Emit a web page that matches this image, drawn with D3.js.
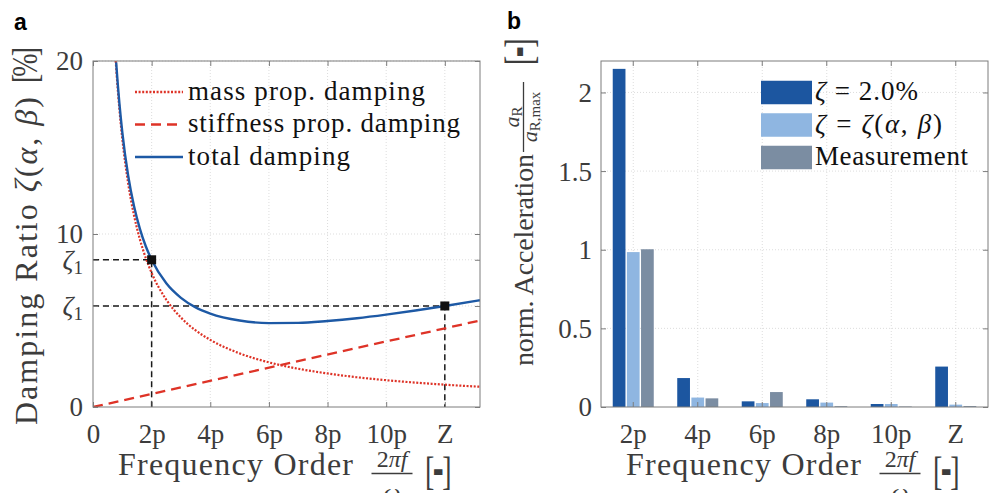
<!DOCTYPE html>
<html>
<head>
<meta charset="utf-8">
<script src="https://cdn.jsdelivr.net/npm/d3@7"></script>
<style>
  body { margin: 0; background: #fff; }
  svg { display: block; }
</style>
</head>
<body>
<svg id="fig" width="991" height="493"></svg>
<script>
// ---------- panel a: Rayleigh damping over frequency order ----------
const freqTicks = [0, 2, 4, 6, 8, 10, 12];
const freqTickLabels = ["0", "2p", "4p", "6p", "8p", "10p", "Z"];

const massX       = [0.775, 0.8, 0.9, 1.0, 1.2, 1.4, 1.6, 1.8, 2.0, 2.5, 3.0, 3.5, 4.0, 5.0, 6.0, 7.0, 8.0, 9.0, 10.0, 11.0, 12.0, 13.2];
const massDamping = [20.0, 19.38, 17.22, 15.5, 12.92, 11.07, 9.69, 8.61, 7.75, 6.2, 5.17, 4.43, 3.88, 3.1, 2.58, 2.21, 1.94, 1.72, 1.55, 1.41, 1.29, 1.17];

const stiffX       = [0, 13.2];
const stiffDamping = [0, 5.0];

const totalX       = [0.79, 0.8, 0.9, 1.0, 1.2, 1.4, 1.6, 1.8, 2.0, 2.5, 3.0, 3.5, 4.0, 5.0, 6.0, 7.0, 8.0, 9.0, 10.0, 11.0, 12.0, 13.2];
const totalDamping = [19.92, 19.68, 17.56, 15.88, 13.37, 11.6, 10.3, 9.29, 8.51, 7.15, 6.31, 5.76, 5.4, 5.0, 4.85, 4.86, 4.97, 5.13, 5.34, 5.58, 5.84, 6.17];

const refX    = [2, 12];
const refZeta = [8.51, 5.84];

const dampTicks      = [0, 5.84, 8.51, 10, 20];
const dampTickLabels = ["0", "ζ1", "ζ1", "10", "20"];

// ---------- panel b: normalised acceleration per order ----------
const orders      = ["2p", "4p", "6p", "8p", "10p", "Z"];
const seriesNames = ["ζ = 2.0%", "ζ = ζ(α, β)", "Measurement"];
const accConst    = [2.15, 0.184, 0.036, 0.049, 0.019, 0.257];
const accRayleigh = [0.985, 0.06, 0.025, 0.028, 0.019, 0.015];
const accMeasured = [1.003, 0.055, 0.095, 0.005, 0.003, 0.006];
const accTicks      = [0, 0.5, 1, 1.5, 2];
const accTickLabels = ["0", "0.5", "1", "1.5", "2"];

// ---------- styling ----------
const serif = "'Liberation Serif', 'DejaVu Serif', serif";
const sans = "'Liberation Sans', Arial, sans-serif";
const axisGray = "#7c7c7c";
const textGray = "#3c3c3c";
const gridGray = "#d4d4d4";
const red = "#de3327";
const blue = "#1d59a5";
const barColors = ["#1c56a0", "#8fb6e1", "#7b8da2"];

const svg = d3.select("#fig");

// writes text containing ζ, α, β, π, f, ω as italic math symbols
function mathText(sel, str) {
  const italics = new Set(["ζ", "α", "β", "π", "f", "ω"]);
  let buf = "";
  const flush = () => { if (buf) { sel.append("tspan").text(buf); buf = ""; } };
  for (const ch of str) {
    if (italics.has(ch)) { flush(); sel.append("tspan").attr("font-style", "italic").text(ch); }
    else buf += ch;
  }
  flush();
}

// "[-]" unit tag with tall, thin brackets
function unitTag(parent, x, y) {
  const t = parent.append("text")
    .attr("transform", `translate(${x},${y}) scale(1,1.45)`)
    .attr("font-family", serif).attr("font-size", 28).attr("fill", textGray);
  t.append("tspan").text("[");
  t.append("tspan").attr("font-family", sans).attr("font-weight", "bold").attr("font-size", 33)
    .attr("dx", -1.5).text("-");
  t.append("tspan").attr("dx", -1.5).text("]");
  return t;
}

function drawGrid(g, xs, ys, box) {
  g.selectAll(null).data(xs).join("line")
    .attr("x1", d => d).attr("x2", d => d)
    .attr("y1", box.top).attr("y2", box.bottom)
    .attr("stroke", gridGray).attr("stroke-width", 0.8).attr("stroke-dasharray", "1,2");
  g.selectAll(null).data(ys).join("line")
    .attr("y1", d => d).attr("y2", d => d)
    .attr("x1", box.left).attr("x2", box.right)
    .attr("stroke", gridGray).attr("stroke-width", 0.8).attr("stroke-dasharray", "1,2");
}

function styleAxis(g) {
  g.attr("font-family", serif).attr("font-size", 27);
  g.select(".domain").remove();
  g.selectAll(".tick line").attr("stroke", axisGray).attr("stroke-width", 1);
  g.selectAll(".tick text").attr("fill", textGray)
    .attr("font-family", serif)
    .style("font-family", serif).style("font-size", "27px");
}

function frame(box) {
  svg.append("rect")
    .attr("x", box.left).attr("y", box.top)
    .attr("width", box.right - box.left).attr("height", box.bottom - box.top)
    .attr("fill", "none").attr("stroke", axisGray).attr("stroke-width", 1);
}

// x-axis title: "Frequency Order 2πf/ω [-]" centred on cx
function freqTitle(cx) {
  const s = cx - 168.5;
  const g = svg.append("g").attr("fill", textGray).attr("font-family", serif);
  g.append("text").attr("x", s).attr("y", 474.5).attr("font-size", 32)
    .attr("textLength", 235).attr("lengthAdjust", "spacing").text("Frequency Order");
  const num = g.append("text").attr("x", s + 274).attr("y", 466.5).attr("font-size", 24)
    .attr("text-anchor", "middle");
  mathText(num, "2πf");
  g.append("line").attr("x1", s + 253.5).attr("x2", s + 294.5).attr("y1", 473.5).attr("y2", 473.5)
    .attr("stroke", textGray).attr("stroke-width", 1.3);
  const den = g.append("text").attr("x", s + 274).attr("y", 500).attr("font-size", 24)
    .attr("text-anchor", "middle");
  mathText(den, "ω");
  unitTag(g, s + 307, 484.5);
}

// ================= panel a =================
const boxA = { left: 93, right: 480, top: 61, bottom: 407 };
const xA = d3.scaleLinear().domain([0, 13.2]).range([boxA.left, boxA.right]);
const yA = d3.scaleLinear().domain([0, 20]).range([boxA.bottom, boxA.top]);

drawGrid(svg.append("g"), freqTicks.slice(1).map(xA), dampTicks.slice(1).map(yA), boxA);

svg.append("clipPath").attr("id", "clipA").append("rect")
  .attr("x", boxA.left).attr("y", boxA.top)
  .attr("width", boxA.right - boxA.left).attr("height", boxA.bottom - boxA.top);

const curveA = svg.append("g").attr("clip-path", "url(#clipA)");
const lineA = d3.line().x(d => xA(d[0])).y(d => yA(d[1])).curve(d3.curveMonotoneX);

// reference level lines down to the axes
refX.forEach((x, i) => {
  curveA.append("path")
    .attr("d", d3.line()([[xA(0), yA(refZeta[i])], [xA(x), yA(refZeta[i])], [xA(x), yA(0)]]))
    .attr("fill", "none").attr("stroke", "#1a1a1a").attr("stroke-width", 1.5)
    .attr("stroke-dasharray", "6,4");
});

curveA.append("path").datum(massX.map((x, i) => [x, massDamping[i]]))
  .attr("d", lineA).attr("fill", "none").attr("stroke", red)
  .attr("stroke-width", 2.2).attr("stroke-dasharray", "2,1.6");
curveA.append("path").datum(stiffX.map((x, i) => [x, stiffDamping[i]]))
  .attr("d", lineA).attr("fill", "none").attr("stroke", red)
  .attr("stroke-width", 2.3).attr("stroke-dasharray", "10,6");
curveA.append("path").datum(totalX.map((x, i) => [x, totalDamping[i]]))
  .attr("d", lineA).attr("fill", "none").attr("stroke", blue).attr("stroke-width", 2.4);

svg.append("g").selectAll("rect").data(refX).join("rect")
  .attr("x", (d) => xA(d) - 4.5).attr("y", (d, i) => yA(refZeta[i]) - 4.5)
  .attr("width", 9).attr("height", 9).attr("fill", "#111");

// axes of panel a (ticks point inward on all four sides)
const gxA = svg.append("g").attr("transform", `translate(0,${boxA.bottom})`)
  .call(d3.axisBottom(xA).tickValues(freqTicks).tickFormat((d, i) => freqTickLabels[i]).tickSize(-5).tickSizeOuter(0));
styleAxis(gxA);
gxA.selectAll(".tick text").attr("y", 36).attr("dy", null);

const gxA2 = svg.append("g").attr("transform", `translate(0,${boxA.top})`)
  .call(d3.axisTop(xA).tickValues(freqTicks).tickFormat("").tickSize(-5).tickSizeOuter(0));
styleAxis(gxA2);

const gyA = svg.append("g").attr("transform", `translate(${boxA.left},0)`)
  .call(d3.axisLeft(yA).tickValues(dampTicks).tickFormat("").tickSize(-5).tickSizeOuter(0));
styleAxis(gyA);
gyA.selectAll(".tick text").each(function (d, i) {
  const t = d3.select(this).attr("x", -10).attr("dy", "0.33em").text(null);
  const lab = dampTickLabels[i];
  if (lab.startsWith("ζ")) {
    t.append("tspan").attr("font-style", "italic").text("ζ");
    t.append("tspan").style("font-size", "19px").attr("dy", 5).text(lab.slice(1));
  } else {
    t.text(lab);
  }
});

const gyA2 = svg.append("g").attr("transform", `translate(${boxA.right},0)`)
  .call(d3.axisRight(yA).tickValues(dampTicks).tickFormat("").tickSize(-5).tickSizeOuter(0));
styleAxis(gyA2);

frame(boxA);

// legend of panel a
const legA = [
  { label: "mass prop. damping", dash: "2,1.6", color: red, w: 237, y: 92 },
  { label: "stiffness prop. damping", dash: "10,6", color: red, w: 272, y: 124.5 },
  { label: "total damping", dash: null, color: blue, w: 162, y: 157 }
];
legA.forEach(d => {
  svg.append("line").attr("x1", 135).attr("x2", 183).attr("y1", d.y).attr("y2", d.y)
    .attr("stroke", d.color).attr("stroke-width", d.dash ? 2.3 : 2.4)
    .attr("stroke-dasharray", d.dash);
  svg.append("text").attr("x", 188).attr("y", d.y + 7.5)
    .attr("font-family", serif).attr("font-size", 27).attr("fill", "#111")
    .attr("textLength", d.w).attr("lengthAdjust", "spacing").text(d.label);
});

// y title of panel a
const ytAg = svg.append("g").attr("transform", "translate(37,425) rotate(-90)")
  .attr("font-family", serif).attr("fill", textGray);
const ytA = ytAg.append("text").attr("x", 0).attr("y", 0).attr("font-size", 32)
  .attr("textLength", 328).attr("lengthAdjust", "spacing");
ytA.append("tspan").text("Damping Ratio ");
mathText(ytA, "ζ(α, β)");
ytAg.append("text").attr("transform", "translate(342,0) scale(1,1.3)").attr("font-size", 28)
  .attr("textLength", 36).attr("lengthAdjust", "spacing").text("[%]");

freqTitle(286.5);

// ================= panel b =================
const boxB = { left: 601, right: 988, top: 61, bottom: 407 };
const xB = d3.scaleBand().domain(orders).range([boxB.left, boxB.right])
  .paddingInner(0.364).paddingOuter(0.182);
const xSeries = d3.scaleBand().domain([0, 1, 2]).range([0, xB.bandwidth()]).paddingInner(0.1);
const yB = d3.scaleLinear().domain([0, 2.2]).range([boxB.bottom, boxB.top]);

drawGrid(svg.append("g"), orders.map(o => xB(o) + xB.bandwidth() / 2), accTicks.slice(1).map(yB), boxB);

const seriesValues = [accConst, accRayleigh, accMeasured];
const barsG = svg.append("g");
seriesValues.forEach((vals, s) => {
  barsG.selectAll(null).data(orders).join("rect")
    .attr("x", o => xB(o) + xSeries(s))
    .attr("y", (o, i) => yB(vals[i]))
    .attr("width", xSeries.bandwidth())
    .attr("height", (o, i) => yB(0) - yB(vals[i]))
    .attr("fill", barColors[s]);
});

const gxB = svg.append("g").attr("transform", `translate(0,${boxB.bottom})`)
  .call(d3.axisBottom(xB).tickSize(-5).tickSizeOuter(0));
styleAxis(gxB);
gxB.selectAll(".tick text").attr("y", 36).attr("dy", null);

const gxB2 = svg.append("g").attr("transform", `translate(0,${boxB.top})`)
  .call(d3.axisTop(xB).tickFormat("").tickSize(-5).tickSizeOuter(0));
styleAxis(gxB2);

const gyB = svg.append("g").attr("transform", `translate(${boxB.left},0)`)
  .call(d3.axisLeft(yB).tickValues(accTicks).tickFormat((d, i) => accTickLabels[i]).tickSize(-5).tickSizeOuter(0));
styleAxis(gyB);
gyB.selectAll(".tick text").attr("x", -9).attr("dy", "0.33em");

const gyB2 = svg.append("g").attr("transform", `translate(${boxB.right},0)`)
  .call(d3.axisRight(yB).tickValues(accTicks).tickFormat("").tickSize(-5).tickSizeOuter(0));
styleAxis(gyB2);

frame(boxB);

// legend of panel b
const legBw = [103, 127, 153];
seriesNames.forEach((name, i) => {
  const cy = 92.5 + i * 32.5;
  svg.append("rect").attr("x", 761).attr("y", cy - 11.75).attr("width", 51).attr("height", 23.5)
    .attr("fill", barColors[i]);
  const t = svg.append("text").attr("x", 815).attr("y", cy + 7.5)
    .attr("font-family", serif).attr("font-size", 27).attr("fill", "#111")
    .attr("textLength", legBw[i]).attr("lengthAdjust", "spacing");
  mathText(t, name);
});

// y title of panel b: "norm. Acceleration a_R / a_R,max [-]"
const ytB = svg.append("g").attr("transform", "translate(533,366) rotate(-90)")
  .attr("fill", textGray).attr("font-family", serif);
ytB.append("text").attr("x", 0).attr("y", 0).attr("font-size", 28)
  .attr("textLength", 212).attr("lengthAdjust", "spacing").text("norm. Acceleration");
const numB = ytB.append("text").attr("x", 249).attr("y", -14).attr("font-size", 22).attr("text-anchor", "middle");
numB.append("tspan").attr("font-style", "italic").text("a");
numB.append("tspan").attr("font-size", 15).attr("dy", 3).text("R");
ytB.append("line").attr("x1", 214).attr("x2", 284).attr("y1", -9.5).attr("y2", -9.5)
  .attr("stroke", textGray).attr("stroke-width", 1.3);
const denB = ytB.append("text").attr("x", 249).attr("y", 4).attr("font-size", 22).attr("text-anchor", "middle");
denB.append("tspan").attr("font-style", "italic").text("a");
denB.append("tspan").attr("font-size", 15).attr("dy", 3).text("R,max");
unitTag(ytB, 301, 0);

freqTitle(794.5);

// panel letters
svg.append("text").attr("x", 14).attr("y", 30).attr("font-family", sans).attr("font-weight", "bold")
  .attr("font-size", 23).attr("fill", "#000").text("a");
svg.append("text").attr("x", 507).attr("y", 29).attr("font-family", sans).attr("font-weight", "bold")
  .attr("font-size", 23).attr("fill", "#000").text("b");
</script>
</body>
</html>
